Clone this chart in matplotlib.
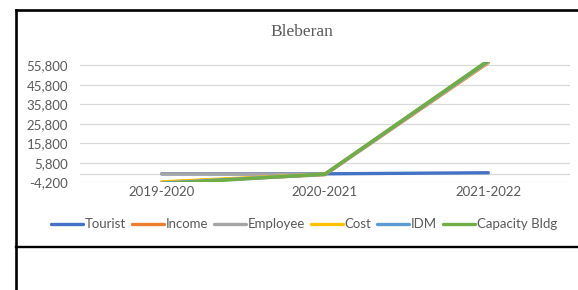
import matplotlib.pyplot as plt
from matplotlib.lines import Line2D

years = ['2019-2020', '2020-2021', '2021-2022']
tourist = [150, 150, 700]
income = [-4200, -300, 57200]
employee = [100, 0, 57600]
cost = [-4000, 0, 57600]
idm = [-4600, -100, 57900]
capacity_bldg = [-5000, 0, 58400]

series = [('Tourist', tourist, '#4472C4'),
          ('Income', income, '#ED7D31'),
          ('Employee', employee, '#A5A5A5'),
          ('Cost', cost, '#FFC000'),
          ('IDM', idm, '#5B9BD5'),
          ('Capacity Bldg', capacity_bldg, '#70AD47')]
yticks = [-4200, 5800, 15800, 25800, 35800, 45800, 55800]

plt.rcParams['font.family'] = ['Lato', 'DejaVu Sans']

fig = plt.figure(figsize=(5.78, 2.9), dpi=100)
ax = fig.add_axes([80/578, 1 - 182.3/290, 490/578, (182.3 - 61.5)/290])

x = range(len(years))
for name, vals, col in series:
    ax.plot(x, vals, color=col, lw=2.4, label=name, solid_capstyle='round')

ax.set_xlim(-0.5, 2.5)
ax.set_ylim(-4200, 57800)
ax.set_yticks(yticks)
ax.set_yticklabels([f'{v:,}' for v in yticks])
ax.set_xticks(list(x))
ax.set_xticklabels(years)
ax.grid(axis='y', color='#D9D9D9', lw=0.9)
ax.axhline(0, color='#D9D9D9', lw=0.9, zorder=0.5)
ax.set_axisbelow(True)
for s in ax.spines.values():
    s.set_visible(False)
ax.tick_params(axis='both', length=0, labelsize=9.5, colors='#595959')
ax.tick_params(axis='y', pad=8.5)
ax.tick_params(axis='x', pad=3)

fig.text(302/578, 1 - 31.7/290, 'Bleberan', ha='center', va='center',
         fontsize=12.5, color='#595959', family='Liberation Serif')

fig.legend(loc='center', bbox_to_anchor=(304/578, 1 - 224.3/290), ncol=6,
           frameon=False, fontsize=9.5, handlelength=2.4, handletextpad=0.15,
           columnspacing=0.45, labelcolor='#595959')

# table border around the chart
for xs, ys, w in [([15.5, 578], [9.5, 9.5], 1.9),
                  ([15.5, 15.5], [9.5, 290], 1.9),
                  ([15.5, 578], [246.7, 246.7], 1.7)]:
    fig.add_artist(Line2D([v/578 for v in xs], [1 - v/290 for v in ys],
                          color='black', lw=w))

fig.savefig('out.png', dpi=100)
